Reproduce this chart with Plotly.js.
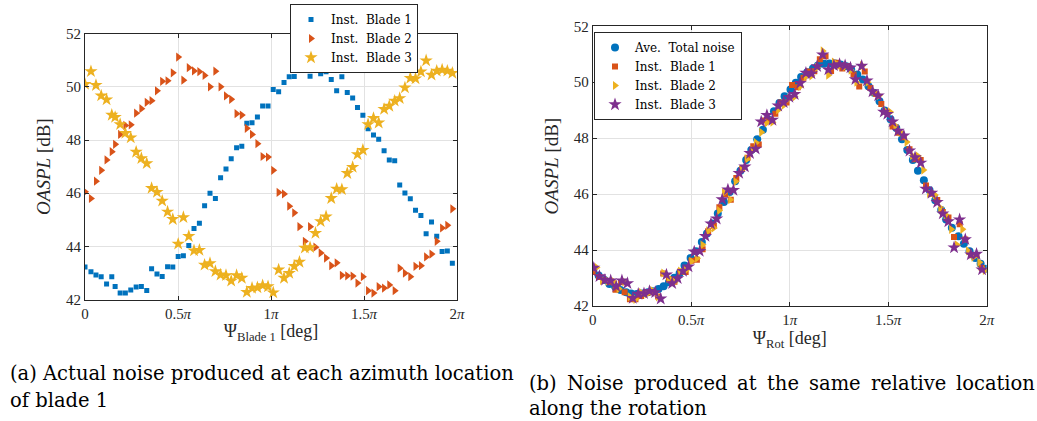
<!DOCTYPE html>
<html>
<head>
<meta charset="utf-8">
<script src="https://cdn.plot.ly/plotly-3.0.1.min.js"></script>
<style>
  html, body { margin: 0; padding: 0; background: #ffffff; }
  #chart { width: 1037px; height: 421px; }
</style>
</head>
<body>
<div id="chart"></div>
<script>
// Azimuth of blade 1, in units of pi
const psiBlade1 = [0.000,0.032,0.059,0.087,0.116,0.144,0.162,0.189,0.217,0.246,0.275,0.303,0.332,0.358,0.387,0.415,0.444,0.472,0.501,0.529,0.558,0.586,0.615,0.643,0.672,0.701,0.729,0.758,0.786,0.815,0.843,0.870,0.898,0.927,0.955,0.984,1.012,1.041,1.070,1.098,1.125,1.153,1.182,1.210,1.239,1.267,1.296,1.324,1.353,1.381,1.410,1.439,1.465,1.494,1.522,1.551,1.579,1.608,1.636,1.665,1.692,1.720,1.749,1.777,1.806,1.834,1.863,1.891,1.920,1.948,1.975];

// Instantaneous OASPL [dB] of each blade
const blade1 = [43.22,43.04,42.92,42.86,42.58,42.86,42.49,42.24,42.24,42.36,42.47,42.49,42.34,43.16,42.96,42.87,43.23,43.22,43.62,43.65,44.03,44.67,44.87,45.53,46.00,45.80,46.58,46.91,47.30,47.71,47.77,48.63,48.65,48.87,49.28,49.28,49.90,49.82,50.16,50.38,50.39,50.82,50.93,50.40,50.70,50.49,50.57,50.28,49.85,50.38,49.79,49.58,49.22,48.93,48.42,48.19,48.03,47.60,47.25,47.22,46.31,46.01,45.79,45.36,45.16,44.47,44.92,44.38,43.81,43.82,43.36];
const blade2 = [46.05,45.80,46.45,46.86,47.25,47.56,47.84,48.21,48.55,48.57,49.01,49.18,49.42,49.48,49.85,50.21,50.23,50.53,51.12,50.25,50.72,50.60,50.57,50.43,50.00,50.59,50.00,49.66,49.53,48.99,48.94,48.44,48.21,47.86,47.38,47.36,46.86,46.03,45.97,45.51,45.26,44.74,44.19,44.74,43.97,43.75,43.56,43.27,43.38,42.91,42.89,42.88,42.62,42.86,42.33,42.24,42.48,42.43,42.55,42.33,43.18,42.99,42.86,43.25,43.27,43.60,43.71,44.19,44.69,44.79,45.41];
const blade3 = [50.10,50.58,50.06,49.67,49.52,48.94,48.86,48.59,48.26,48.09,47.55,47.31,47.12,46.19,46.04,45.71,45.30,45.02,44.09,45.09,44.38,43.84,43.86,43.30,43.36,43.06,42.93,42.91,42.70,42.91,42.81,42.28,42.43,42.45,42.53,42.49,42.26,43.12,42.81,42.99,43.25,43.41,43.94,43.96,44.50,44.94,45.12,45.81,46.16,46.14,46.75,46.98,47.46,47.62,48.59,48.82,48.65,49.16,49.28,49.47,49.57,49.97,50.33,50.31,50.57,50.99,50.45,50.60,50.64,50.60,50.52];

// Blade phase lag relative to blade 1 (units of pi)
const phaseBlade2 = 2 / 3;
const phaseBlade3 = 4 / 3;

// Average total noise vs rotation angle (units of pi)
const psiRotAve = [0.003,0.030,0.060,0.085,0.114,0.141,0.170,0.195,0.224,0.251,0.280,0.305,0.334,0.360,0.387,0.414,0.441,0.466,0.497,0.524,0.554,0.580,0.607,0.635,0.666,0.695,0.723,0.750,0.779,0.805,0.835,0.864,0.893,0.920,0.948,0.974,1.004,1.031,1.058,1.089,1.118,1.143,1.174,1.202,1.231,1.258,1.287,1.312,1.343,1.371,1.400,1.427,1.456,1.482,1.512,1.541,1.570,1.597,1.625,1.651,1.681,1.710,1.739,1.769,1.794,1.823,1.857,1.884,1.913,1.942,1.969,1.996];
const aveTotal = [43.29,43.09,42.93,42.79,42.69,42.57,42.49,42.45,42.43,42.45,42.49,42.53,42.61,42.71,42.85,43.01,43.17,43.45,43.72,43.96,44.29,44.59,44.95,45.31,45.72,46.08,46.46,46.84,47.22,47.58,47.96,48.30,48.66,48.96,49.26,49.50,49.74,49.98,50.19,50.36,50.49,50.60,50.66,50.67,50.67,50.63,50.57,50.46,50.28,50.10,49.86,49.62,49.32,48.99,48.68,48.36,47.96,47.58,47.22,46.84,46.50,46.14,45.78,45.43,45.09,44.80,44.49,44.23,43.96,43.72,43.51,43.33];

// Ticks
const xTickVals = [0, 0.5, 1, 1.5, 2];
const xTickText = ['0', '0.5<i>π</i>', '1<i>π</i>', '1.5<i>π</i>', '2<i>π</i>'];
const yTickVals = [42, 44, 46, 48, 50, 52];
const yTickText = ['42', '44', '46', '48', '50', '52'];

// Captions
const captionA = ['(a) Actual noise produced at each azimuth location', 'of blade 1'];
const captionB1Words = ['(b)', 'Noise', 'produced', 'at', 'the', 'same', 'relative', 'location'];
const captionB2 = 'along the rotation';

const C_BLUE = '#0072BD', C_ORANGE = '#D95319', C_YELLOW = '#EDB120', C_PURPLE = '#7E2F8E';
const FONT = 'Liberation Serif, Times New Roman, serif';
const FONT_WIDE = 'DejaVu Serif, serif';

const wrap = (arr, phase) => arr.map(v => (v + phase) % 2);

const traces = [
  { x: psiBlade1, y: blade1, name: 'Inst.  Blade 1', type: 'scatter', mode: 'markers', xaxis: 'x', yaxis: 'y',
    marker: { symbol: 'square', size: 5, color: C_BLUE }, legend: 'legend' },
  { x: psiBlade1, y: blade2, name: 'Inst.  Blade 2', type: 'scatter', mode: 'markers', xaxis: 'x', yaxis: 'y',
    marker: { symbol: 'triangle-right', size: 8, color: C_ORANGE }, legend: 'legend' },
  { x: psiBlade1, y: blade3, name: 'Inst.  Blade 3', type: 'scatter', mode: 'markers', xaxis: 'x', yaxis: 'y',
    marker: { symbol: 'star', size: 10, color: C_YELLOW }, legend: 'legend' },

  { x: psiRotAve, y: aveTotal, name: 'Ave.  Total noise', type: 'scatter', mode: 'markers', xaxis: 'x2', yaxis: 'y2',
    marker: { symbol: 'circle', size: 8, color: C_BLUE }, legend: 'legend2' },
  { x: psiBlade1, y: blade1, name: 'Inst.  Blade 1', type: 'scatter', mode: 'markers', xaxis: 'x2', yaxis: 'y2',
    marker: { symbol: 'square', size: 6, color: C_ORANGE }, legend: 'legend2' },
  { x: wrap(psiBlade1, phaseBlade2), y: blade2, name: 'Inst.  Blade 2', type: 'scatter', mode: 'markers', xaxis: 'x2', yaxis: 'y2',
    marker: { symbol: 'triangle-right', size: 8, color: C_YELLOW }, legend: 'legend2' },
  { x: wrap(psiBlade1, phaseBlade3), y: blade3, name: 'Inst.  Blade 3', type: 'scatter', mode: 'markers', xaxis: 'x2', yaxis: 'y2',
    marker: { symbol: 'star', size: 10, color: C_PURPLE }, legend: 'legend2' }
];

const axisCommon = {
  showline: true, linecolor: '#262626', linewidth: 1, mirror: 'ticks',
  ticks: 'inside', ticklen: 4, tickcolor: '#262626', tickwidth: 1,
  showgrid: true, gridcolor: '#e2e2e2', gridwidth: 1, zeroline: false,
  tickfont: { family: FONT, size: 15, color: '#262626' }, automargin: false
};

const W = 1037, H = 421;
const CAP_SIZE = 19.5;
const capFont = { family: FONT_WIDE, size: CAP_SIZE, color: '#000000' };

// Justify the first line of caption (b) between two edges (px), using measured word widths
const lineLeft = 527, lineRight = 1033;
const ctx = document.createElement('canvas').getContext('2d');
ctx.font = CAP_SIZE + 'px "DejaVu Serif"';
const widths = captionB1Words.map(w => ctx.measureText(w).width);
const totalW = widths.reduce((a, b) => a + b, 0);
const gap = (lineRight - lineLeft - totalW) / (captionB1Words.length - 1);
const captionB1X = [];
let cursor = lineLeft;
widths.forEach(wd => { captionB1X.push(cursor); cursor += wd + gap; });

const annotations = [
  { xref: 'paper', yref: 'paper', x: 8 / W, y: 1 - 373 / H, xanchor: 'left', yanchor: 'middle',
    text: captionA[0], showarrow: false, font: capFont },
  { xref: 'paper', yref: 'paper', x: 8 / W, y: 1 - 400 / H, xanchor: 'left', yanchor: 'middle',
    text: captionA[1], showarrow: false, font: capFont },
  { xref: 'paper', yref: 'paper', x: 527 / W, y: 1 - 408 / H, xanchor: 'left', yanchor: 'middle',
    text: captionB2, showarrow: false, font: capFont }
];
captionB1Words.forEach((w, i) => {
  annotations.push({ xref: 'paper', yref: 'paper', x: captionB1X[i] / W, y: 1 - 383 / H,
    xanchor: 'left', yanchor: 'middle', text: w, showarrow: false, font: capFont });
});

const layout = {
  width: W, height: H,
  margin: { l: 0, r: 0, t: 0, b: 0 },
  paper_bgcolor: '#ffffff', plot_bgcolor: '#ffffff',
  font: { family: FONT, color: '#262626' },
  xaxis: Object.assign({}, axisCommon, {
    domain: [85 / W, 457 / W], range: [0, 2], anchor: 'y',
    tickvals: xTickVals, ticktext: xTickText,
    title: { text: 'Ψ<sub>Blade 1</sub> [deg]', font: { family: FONT, size: 18, color: '#262626' }, standoff: 2 }
  }),
  yaxis: Object.assign({}, axisCommon, {
    domain: [1 - 299.5 / H, 1 - 33.7 / H], range: [42, 52], anchor: 'x',
    tickvals: yTickVals, ticktext: yTickText,
    title: { text: '<i>OASPL</i> [dB]', font: { family: FONT, size: 19, color: '#262626' }, standoff: 10 }
  }),
  xaxis2: Object.assign({}, axisCommon, {
    domain: [592.7 / W, 986.7 / W], range: [0, 2], anchor: 'y2',
    tickvals: xTickVals, ticktext: xTickText,
    title: { text: 'Ψ<sub>Rot</sub> [deg]', font: { family: FONT, size: 18, color: '#262626' }, standoff: 2 }
  }),
  yaxis2: Object.assign({}, axisCommon, {
    domain: [1 - 306 / H, 1 - 26.3 / H], range: [42, 52], anchor: 'x2',
    tickvals: yTickVals, ticktext: yTickText,
    title: { text: '<i>OASPL</i> [dB]', font: { family: FONT, size: 19, color: '#262626' }, standoff: 10 }
  }),
  showlegend: true,
  legend: {
    x: 418 / W, y: 1 - 4 / H, xanchor: 'right', yanchor: 'top',
    bgcolor: '#ffffff', bordercolor: '#262626', borderwidth: 1,
    font: { family: FONT_WIDE, size: 12, color: '#000000' }, tracegroupgap: 0, itemwidth: 30
  },
  legend2: {
    x: 594 / W, y: 1 - 32 / H, xanchor: 'left', yanchor: 'top',
    bgcolor: '#ffffff', bordercolor: '#262626', borderwidth: 1,
    font: { family: FONT_WIDE, size: 12, color: '#000000' }, tracegroupgap: 0, itemwidth: 30
  },
  annotations: annotations
};

Plotly.newPlot('chart', traces, layout, { displayModeBar: false, staticPlot: true });
</script>
</body>
</html>
